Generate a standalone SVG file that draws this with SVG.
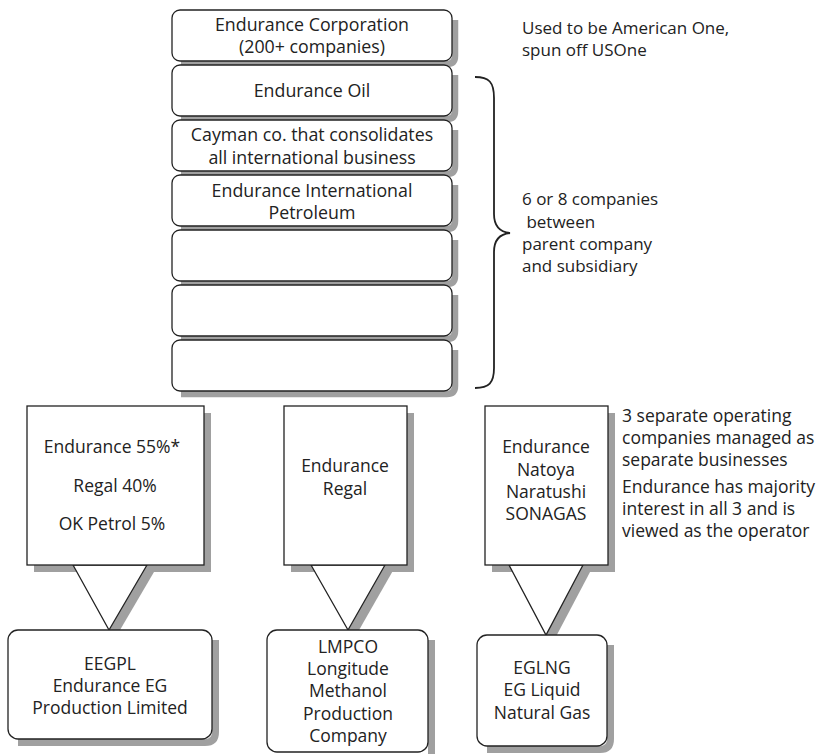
<svg xmlns="http://www.w3.org/2000/svg" width="819" height="754" viewBox="0 0 819 754">
<defs>
<style>
.sh{fill:none;stroke:#a0a0a0;stroke-width:6.5;stroke-linejoin:round}
.sl{fill:none;stroke:#a0a0a0;stroke-width:7;stroke-linejoin:miter}
.st{fill:none;stroke:#a0a0a0;stroke-width:9.6}
.bx{fill:#fff;stroke:#222;stroke-width:1.3}
.t{font-family:"Open Sans","Liberation Sans",sans-serif;font-size:17.8px;fill:#222;text-anchor:middle}
.tb{font-family:"Open Sans","Liberation Sans",sans-serif;font-size:17.5px;fill:#222;text-anchor:middle}
.n{font-family:"Open Sans","Liberation Sans",sans-serif;font-size:17px;fill:#222}
.m{font-family:"Open Sans","Liberation Sans",sans-serif;font-size:17.5px;fill:#222}
.br{fill:none;stroke:#222;stroke-width:1.8}
</style>
</defs>
<g id="n-corp">
<path class="sh" d="M455,20 V56 Q455,64 447,64 H181"/>
<rect class="bx" x="172" y="10" width="280" height="51" rx="8"/>
<text class="t" x="312" y="31">Endurance Corporation</text>
<text class="t" x="312" y="53">(200+ companies)</text>
</g>
<g id="n-oil">
<path class="sh" d="M455,75 V111 Q455,119 447,119 H181"/>
<rect class="bx" x="172" y="65" width="280" height="51" rx="8"/>
<text class="t" x="312" y="97">Endurance Oil</text>
</g>
<g id="n-cayman">
<path class="sh" d="M455,130 V166 Q455,174 447,174 H181"/>
<rect class="bx" x="172" y="120" width="280" height="51" rx="8"/>
<text class="t" x="312" y="141">Cayman co. that consolidates</text>
<text class="t" x="312" y="164">all international business</text>
</g>
<g id="n-eip">
<path class="sh" d="M455,185 V221 Q455,229 447,229 H181"/>
<rect class="bx" x="172" y="175" width="280" height="51" rx="8"/>
<text class="t" x="312" y="197">Endurance International</text>
<text class="t" x="312" y="219">Petroleum</text>
</g>
<g id="n-blank1">
<path class="sh" d="M455,240 V276 Q455,284 447,284 H181"/>
<rect class="bx" x="172" y="230" width="280" height="51" rx="8"/>
</g>
<g id="n-blank2">
<path class="sh" d="M455,295 V331 Q455,339 447,339 H181"/>
<rect class="bx" x="172" y="285" width="280" height="51" rx="8"/>
</g>
<g id="n-blank3">
<path class="sh" d="M455,350 V386 Q455,394 447,394 H181"/>
<rect class="bx" x="172" y="340" width="280" height="51" rx="8"/>
</g>
<g id="shadows-lower">
<path class="sl" d="M207.5,413 V568.5 H34"/>
<path class="sl" d="M410.5,413 V568.5 H291"/>
<path class="sl" d="M611.5,413 V568.5 H492"/>
<path class="st" d="M153.5,563.3 L113.1,632.4"/>
<path class="st" d="M391.6,563.3 L352.2,632.4"/>
<path class="st" d="M589.5,562.8 L550.2,637.2"/>
<path class="sl" d="M215.5,640 V732 Q215.5,742.5 205,742.5 H18"/>
<path class="sl" d="M431.5,640 V754"/>
<path class="sl" d="M610.5,645 V739 Q610.5,749.5 600,749.5 H487"/>
</g>
<g id="connectors">
<polygon class="bx" points="73,565 147,565 109,630"/>
<polygon class="bx" points="311,565 385,565 348,630"/>
<polygon class="bx" points="509,565 583,565 546,635"/>
<path class="br" d="M475,77 C489,77 494,82 494,98 L494,214 C494,226 500,232 510,233 C500,234 494,240 494,252 L494,368 C494,383 489,388 475,388"/>
</g>
<g id="n-own1">
<rect class="bx" x="27" y="406" width="177" height="159"/>
<text class="tb" x="112" y="453">Endurance 55%*</text>
<text class="tb" x="115" y="492">Regal 40%</text>
<text class="tb" x="112" y="530">OK Petrol 5%</text>
</g>
<g id="n-own2">
<rect class="bx" x="284" y="406" width="123" height="159"/>
<text class="tb" x="345" y="472">Endurance</text>
<text class="tb" x="345" y="495">Regal</text>
</g>
<g id="n-own3">
<rect class="bx" x="485" y="406" width="123" height="159"/>
<text class="tb" x="546" y="453">Endurance</text>
<text class="tb" x="546" y="476">Natoya</text>
<text class="tb" x="546" y="498">Naratushi</text>
<text class="tb" x="546" y="520">SONAGAS</text>
</g>
<g id="n-eegpl">
<rect class="bx" x="8" y="630" width="204" height="109" rx="10"/>
<text class="tb" x="110" y="670">EEGPL</text>
<text class="tb" x="110" y="692">Endurance EG</text>
<text class="tb" x="110" y="714">Production Limited</text>
</g>
<g id="n-lmpco">
<rect class="bx" x="267" y="630" width="161" height="122" rx="10"/>
<text class="tb" x="348" y="653">LMPCO</text>
<text class="tb" x="348" y="675">Longitude</text>
<text class="tb" x="348" y="697">Methanol</text>
<text class="tb" x="348" y="720">Production</text>
<text class="tb" x="348" y="742">Company</text>
</g>
<g id="n-eglng">
<rect class="bx" x="477" y="635" width="130" height="111" rx="10"/>
<text class="tb" x="542" y="674">EGLNG</text>
<text class="tb" x="542" y="696">EG Liquid</text>
<text class="tb" x="542" y="719">Natural Gas</text>
</g>
<g id="notes">
<text class="n" x="522" y="34">Used to be American One,</text>
<text class="n" x="522" y="56">spun off USOne</text>
<text class="n" x="522" y="205">6 or 8 companies</text>
<text class="n" x="522" y="228" xml:space="preserve"> between</text>
<text class="n" x="522" y="250">parent company</text>
<text class="n" x="522" y="272">and subsidiary</text>
<text class="m" x="622" y="422">3 separate operating</text>
<text class="m" x="622" y="444">companies managed as</text>
<text class="m" x="622" y="466">separate businesses</text>
<text class="m" x="622" y="493">Endurance has majority</text>
<text class="m" x="622" y="515">interest in all 3 and is</text>
<text class="m" x="622" y="537">viewed as the operator</text>
</g>
</svg>
